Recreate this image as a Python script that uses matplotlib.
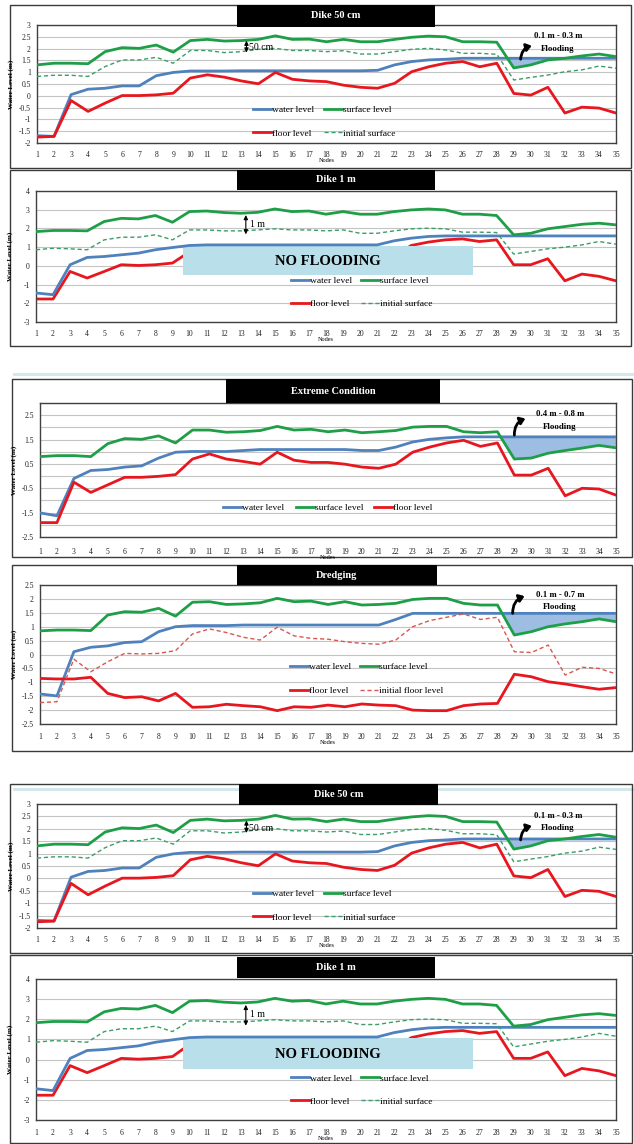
import matplotlib
matplotlib.use('Agg')
import matplotlib.pyplot as plt
from matplotlib.patches import Rectangle
from matplotlib.lines import Line2D
import numpy as np

plt.rcParams['font.family'] = ['Liberation Serif', 'DejaVu Serif']

W, H = 634, 1144

# ---------------- data ----------------
nodes = list(range(1, 36))
node_labels = [str(n) for n in nodes]

# Dike 50 cm
surface_d50 = [1.31, 1.38, 1.38, 1.36, 1.87, 2.04, 2.01, 2.15, 1.85, 2.34,
               2.39, 2.32, 2.34, 2.39, 2.54, 2.39, 2.40, 2.29, 2.39, 2.29,
               2.29, 2.39, 2.48, 2.53, 2.50, 2.29, 2.29, 2.27, 1.18, 1.31,
               1.52, 1.59, 1.69, 1.77, 1.66]
initial_d50 = [0.82, 0.87, 0.87, 0.82, 1.24, 1.52, 1.52, 1.63, 1.38, 1.92,
               1.92, 1.83, 1.87, 1.97, 2.01, 1.92, 1.92, 1.87, 1.91, 1.77,
               1.77, 1.87, 1.97, 2.01, 1.94, 1.80, 1.80, 1.76, 0.67, 0.78,
               0.88, 1.02, 1.10, 1.26, 1.17]
water_d50 = [-1.69, -1.72, 0.05, 0.28, 0.32, 0.42, 0.42, 0.85, 0.99, 1.05,
             1.05, 1.05, 1.06, 1.06, 1.06, 1.06, 1.06, 1.06, 1.06, 1.06,
             1.08, 1.31, 1.45, 1.52, 1.55, 1.59, 1.59, 1.59, 1.59, 1.59,
             1.59, 1.59, 1.59, 1.59, 1.59]
floor_d50 = [-1.75, -1.72, -0.20, -0.66, -0.31, 0.01, 0.01, 0.04, 0.11, 0.75,
             0.89, 0.79, 0.63, 0.51, 0.99, 0.70, 0.63, 0.60, 0.45, 0.36,
             0.32, 0.53, 1.02, 1.23, 1.38, 1.45, 1.23, 1.38, 0.10, 0.03,
             0.36, -0.73, -0.48, -0.52, -0.73]

# Dike 1 m
surface_d1 = [1.83, 1.89, 1.89, 1.87, 2.37, 2.54, 2.51, 2.69, 2.33, 2.90,
              2.93, 2.85, 2.81, 2.86, 3.04, 2.90, 2.93, 2.76, 2.90, 2.76,
              2.76, 2.90, 2.99, 3.04, 2.99, 2.76, 2.76, 2.69, 1.66, 1.74,
              1.98, 2.10, 2.22, 2.28, 2.19]
initial_d1 = [0.86, 0.94, 0.91, 0.86, 1.39, 1.53, 1.53, 1.66, 1.39, 1.92,
              1.92, 1.87, 1.87, 1.92, 1.98, 1.92, 1.92, 1.87, 1.92, 1.74,
              1.74, 1.87, 1.98, 2.01, 1.98, 1.80, 1.80, 1.78, 0.63, 0.77,
              0.91, 1.00, 1.12, 1.30, 1.16]
water_d1 = [-1.45, -1.54, 0.06, 0.45, 0.50, 0.59, 0.68, 0.86, 0.98, 1.09,
            1.12, 1.12, 1.12, 1.12, 1.12, 1.12, 1.12, 1.12, 1.12, 1.12,
            1.12, 1.34, 1.48, 1.57, 1.60, 1.60, 1.60, 1.60, 1.60, 1.60,
            1.60, 1.60, 1.60, 1.60, 1.60]
floor_d1 = [-1.77, -1.77, -0.30, -0.65, -0.30, 0.06, 0.02, 0.06, 0.15, 0.75,
            0.89, 0.79, 0.63, 0.51, 0.99, 0.70, 0.63, 0.60, 0.45, 0.36,
            0.32, 0.53, 1.09, 1.27, 1.39, 1.44, 1.30, 1.39, 0.06, 0.06,
            0.38, -0.80, -0.44, -0.56, -0.80]

# Extreme condition
surface_ex = [0.80, 0.84, 0.84, 0.80, 1.33, 1.54, 1.51, 1.65, 1.36, 1.89,
              1.89, 1.80, 1.82, 1.87, 2.04, 1.89, 1.92, 1.82, 1.89, 1.78,
              1.82, 1.87, 2.01, 2.04, 2.04, 1.82, 1.78, 1.82, 0.70, 0.74,
              0.94, 1.05, 1.15, 1.26, 1.16]
water_ex = [-1.51, -1.63, -0.10, 0.23, 0.27, 0.37, 0.42, 0.74, 0.98, 1.01,
            1.01, 1.01, 1.05, 1.09, 1.09, 1.09, 1.09, 1.09, 1.09, 1.05,
            1.05, 1.19, 1.40, 1.51, 1.57, 1.61, 1.61, 1.61, 1.61, 1.61,
            1.61, 1.61, 1.61, 1.61, 1.61]
floor_ex = [-1.91, -1.91, -0.25, -0.67, -0.36, -0.05, -0.05, -0.01, 0.06, 0.70,
            0.91, 0.70, 0.60, 0.49, 0.98, 0.65, 0.56, 0.56, 0.49, 0.37,
            0.32, 0.49, 0.98, 1.19, 1.36, 1.47, 1.22, 1.36, 0.04, 0.04,
            0.32, -0.81, -0.50, -0.53, -0.78]

# Dredging
surface_dr = [0.85, 0.88, 0.88, 0.86, 1.42, 1.54, 1.52, 1.66, 1.38, 1.88,
              1.90, 1.80, 1.82, 1.86, 2.02, 1.90, 1.92, 1.80, 1.90, 1.78,
              1.80, 1.84, 1.98, 2.02, 2.02, 1.84, 1.78, 1.78, 0.70, 0.82,
              1.00, 1.10, 1.18, 1.28, 1.18]
water_dr = [-1.42, -1.49, 0.10, 0.26, 0.31, 0.43, 0.46, 0.82, 1.00, 1.04,
            1.04, 1.04, 1.06, 1.06, 1.06, 1.06, 1.06, 1.06, 1.06, 1.06,
            1.06, 1.26, 1.48, 1.48, 1.48, 1.48, 1.48, 1.48, 1.48, 1.48,
            1.48, 1.48, 1.48, 1.48, 1.48]
floor_dr = [-0.86, -0.88, -0.88, -0.82, -1.40, -1.55, -1.52, -1.67, -1.40, -1.90,
            -1.88, -1.79, -1.84, -1.88, -2.02, -1.88, -1.90, -1.82, -1.88, -1.78,
            -1.82, -1.84, -2.00, -2.02, -2.02, -1.84, -1.78, -1.76, -0.71, -0.80,
            -0.98, -1.06, -1.16, -1.25, -1.19]
initfloor_dr = [-1.73, -1.70, -0.17, -0.62, -0.26, 0.04, 0.02, 0.04, 0.14, 0.74,
                0.92, 0.79, 0.62, 0.52, 0.98, 0.67, 0.58, 0.55, 0.46, 0.40,
                0.37, 0.52, 1.00, 1.22, 1.34, 1.46, 1.26, 1.34, 0.10, 0.07,
                0.34, -0.74, -0.46, -0.50, -0.70]

yticks_d50 = [-2, -1.5, -1, -0.5, 0, 0.5, 1, 1.5, 2, 2.5, 3]
ylabels_d50 = ['-2', '-1.5', '-1', '-0.5', '0', '0.5', '1', '1.5', '2', '2.5', '3']
yticks_d1 = [-3, -2, -1, 0, 1, 2, 3, 4]
ylabels_d1 = ['-3', '-2', '-1', '0', '1', '2', '3', '4']
yticks_ex = [-2.5, -2, -1.5, -1, -0.5, 0, 0.5, 1, 1.5, 2, 2.5, 3]
ylabels_ex = ['-2.5', '', '-1.5', '', '-0.5', '', '0.5', '', '1.5', '', '2.5', '']
yticks_dr = [-2.5, -2, -1.5, -1, -0.5, 0, 0.5, 1, 1.5, 2, 2.5]
ylabels_dr = ['-2.5', '-2', '-1.5', '-1', '-0.5', '0', '0.5', '1', '1.5', '2', '2.5']

# ---------------- styles ----------------
BLUE = '#4f81bd'
GREEN = '#1e9f47'
RED = '#e8161e'
DGREEN = '#3d9d68'
DRED = '#d9574f'
FILL = '#9dbde3'
BOX = '#b9e0ea'
FRAME = '#3a3a3a'

fig = plt.figure(figsize=(W / 100, H / 100), dpi=100)
fig.patch.set_facecolor('white')


def frect(x0, y0, x1, y1):
    return [x0 / W, 1 - y1 / H, (x1 - x0) / W, (y1 - y0) / H]


def frame(x0, y0, x1, y1):
    fig.add_artist(Rectangle((x0 / W, 1 - y1 / H), (x1 - x0) / W, (y1 - y0) / H,
                             transform=fig.transFigure, fill=False, ec=FRAME,
                             lw=1.0, zorder=-1))


def title_bar(x0, y0, x1, y1, text):
    fig.add_artist(Rectangle((x0 / W, 1 - y1 / H), (x1 - x0) / W, (y1 - y0) / H,
                             transform=fig.transFigure, fc='black', ec='none',
                             zorder=5))
    fig.text((x0 + x1) / 2 / W, 1 - (y0 + y1) / 2 / H, text, color='white',
             ha='center', va='center', fontsize=7.5, fontweight='bold', zorder=6)


def hline(y, x0, x1):
    fig.add_artist(Line2D([x0 / W, x1 / W], [1 - y / H, 1 - y / H],
                          transform=fig.transFigure, color='#cfe7ea', lw=2,
                          zorder=-2))


def make_axes(rect, ylim, yticks, ylabels, xpad):
    ax = fig.add_axes(frect(*rect))
    ax.set_xlim(1, 35)
    ax.set_ylim(*ylim)
    ax.set_xticks(nodes)
    ax.set_xticklabels(node_labels, fontsize=5.5)
    ax.set_yticks(yticks)
    ax.set_yticklabels(ylabels, fontsize=5.5)
    ax.tick_params(axis='both', length=0, colors='#202020')
    ax.tick_params(axis='x', pad=xpad)
    ax.tick_params(axis='y', pad=4.5)
    ax.grid(axis='y', color='#c4c4c4', lw=0.8)
    ax.set_axisbelow(True)
    for s in ax.spines.values():
        s.set_color('#404040')
        s.set_linewidth(1.0)
    ax.set_ylabel('Water Level (m)', fontsize=5, fontweight='bold')
    ax.yaxis.set_label_coords(-0.04, 0.5)
    ax.set_xlabel('Nodes', fontsize=4.5, labelpad=-0.5)
    return ax


def flood(ax, surface, water):
    s = np.array(surface)
    w = np.array(water)
    ax.fill_between(nodes, s, w, where=s < w, interpolate=True,
                    color=FILL, lw=0, zorder=1.5)


def flood_note(ax, txt, x, y, tail, head):
    ax.text(x, y, txt, ha='center', va='center', fontsize=6.3,
            fontweight='bold', linespacing=1.7, zorder=6)
    ax.annotate('', xy=head, xytext=tail,
                arrowprops=dict(arrowstyle='-|>,head_width=0.22,head_length=0.3',
                                connectionstyle='arc3,rad=-0.35', lw=2.0,
                                color='black', shrinkA=0, shrinkB=0), zorder=6)


def dim_arrow(ax, x, y0, y1, label, tx, ty):
    ax.annotate('', xy=(x, y1), xytext=(x, y0),
                arrowprops=dict(arrowstyle='<|-|>,head_width=0.12,head_length=0.25',
                                lw=0.8, color='black', shrinkA=0, shrinkB=0),
                zorder=6)
    ax.text(tx, ty, label, ha='left', va='center', fontsize=7, zorder=6)


def draw_d50(rect, xpad):
    ax = make_axes(rect, (-2, 3), yticks_d50, ylabels_d50, xpad)
    flood(ax, surface_d50, water_d50)
    l1, = ax.plot(nodes, water_d50, color=BLUE, lw=2.0, zorder=3)
    l2, = ax.plot(nodes, floor_d50, color=RED, lw=2.0, zorder=3)
    l3, = ax.plot(nodes, surface_d50, color=GREEN, lw=2.0, zorder=3)
    l4, = ax.plot(nodes, initial_d50, color=DGREEN, lw=1.0, ls=(0, (3, 2)), zorder=3)
    ax.legend([l1, l2, l3, l4], ['water level', 'floor level', 'surface level',
                                 'initial surface'],
              loc='center', bbox_to_anchor=(0.496, 0.18), ncol=2, frameon=False,
              fontsize=6.8, handlelength=1.9, handletextpad=0.1,
              columnspacing=1.0, labelspacing=1.55)
    dim_arrow(ax, 13.3, 1.83, 2.34, '50 cm', 13.45, 2.03)
    flood_note(ax, '0.1 m - 0.3 m\nFlooding', 31.6, 2.26, (29.4, 1.55), (30.05, 2.12))
    return ax


def draw_d1(rect, xpad, leg_y):
    ax = make_axes(rect, (-3, 4), yticks_d1, ylabels_d1, xpad)
    l1, = ax.plot(nodes, water_d1, color=BLUE, lw=2.0, zorder=3)
    l2, = ax.plot(nodes, floor_d1, color=RED, lw=2.0, zorder=2)
    l3, = ax.plot(nodes, surface_d1, color=GREEN, lw=2.0, zorder=3)
    l4, = ax.plot(nodes, initial_d1, color=DGREEN, lw=1.0, ls=(0, (3, 2)), zorder=3)
    ax.add_patch(Rectangle((9.6, -0.47), 17.0, 1.55, fc=BOX, ec='none', zorder=2.5))
    ax.text(18.1, 0.25, 'NO FLOODING', ha='center', va='center', fontsize=10.5,
            fontweight='bold', zorder=4)
    ax.legend([l1, l2, l3, l4], ['water level', 'floor level', 'surface level',
                                 'initial surface'],
              loc='center', bbox_to_anchor=(0.562, leg_y), ncol=2, frameon=False,
              fontsize=6.8, handlelength=1.9, handletextpad=0.1,
              columnspacing=1.0, labelspacing=1.5)
    dim_arrow(ax, 13.3, 1.68, 2.72, '1 m', 13.55, 2.22)
    return ax


# ---------------- panel frames / separators ----------------
frame(10, 5, 631, 168)
frame(10, 170, 631, 346)
frame(12, 379, 632, 557)
frame(12, 565, 632, 751)
frame(10, 784, 632, 953)
frame(10, 955, 632, 1143)
hline(374, 14, 632)
hline(789, 14, 632)

# ---------------- panel 1: Dike 50 cm ----------------
draw_d50((37, 25, 616, 143), 5.8)
title_bar(237, 5, 435, 27, 'Dike 50 cm')

# ---------------- panel 2: Dike 1 m ----------------
draw_d1((36, 191, 616, 322), 5.8, 0.225)
title_bar(237, 170, 435, 190, 'Dike 1 m')

# ---------------- panel 3: Extreme Condition ----------------
ax3 = make_axes((40, 403, 616, 537), (-2.5, 3), yticks_ex, ylabels_ex, 8)
flood(ax3, surface_ex, water_ex)
a1, = ax3.plot(nodes, water_ex, color=BLUE, lw=2.0, zorder=3)
a2, = ax3.plot(nodes, surface_ex, color=GREEN, lw=2.0, zorder=3)
a3, = ax3.plot(nodes, floor_ex, color=RED, lw=2.0, zorder=3)
ax3.legend([a1, a2, a3], ['water level', 'surface level', 'floor level'],
           loc='center', bbox_to_anchor=(0.5, 0.22), ncol=3, frameon=False,
           fontsize=6.8, handlelength=1.9, handletextpad=0.1, columnspacing=1.2)
flood_note(ax3, '0.4 m - 0.8 m\nFlooding', 31.7, 2.28, (29.0, 1.68), (29.65, 2.36))
title_bar(226, 379, 440, 403, 'Extreme Condition')

# ---------------- panel 4: Dredging ----------------
ax4 = make_axes((40, 585, 616, 724), (-2.5, 2.5), yticks_dr, ylabels_dr, 6.5)
flood(ax4, surface_dr, water_dr)
b1, = ax4.plot(nodes, water_dr, color=BLUE, lw=2.0, zorder=3)
b2, = ax4.plot(nodes, floor_dr, color=RED, lw=2.0, zorder=3)
b3, = ax4.plot(nodes, surface_dr, color=GREEN, lw=2.0, zorder=3)
b4, = ax4.plot(nodes, initfloor_dr, color=DRED, lw=1.0, ls=(0, (3, 2)), zorder=3)
ax4.legend([b1, b2, b3, b4], ['water level', 'floor level', 'surface level',
                              'initial floor level'],
           loc='center', bbox_to_anchor=(0.567, 0.325), ncol=2, frameon=False,
           fontsize=6.8, handlelength=1.9, handletextpad=0.1,
           columnspacing=1.0, labelspacing=1.65)
flood_note(ax4, '0.1 m - 0.7 m\nFlooding', 31.7, 1.93, (28.9, 1.48), (29.6, 2.1))
title_bar(237, 565, 437, 585, 'Dredging')

# ---------------- panel 5: Dike 50 cm (repeat) ----------------
draw_d50((37, 804, 616, 928), 5.8)
title_bar(239, 784, 438, 805, 'Dike 50 cm')

# ---------------- panel 6: Dike 1 m (repeat) ----------------
draw_d1((36, 979, 616, 1120), 6.5, 0.214)
title_bar(237, 957, 435, 978, 'Dike 1 m')

fig.savefig('out.png', dpi=100, facecolor='white')
